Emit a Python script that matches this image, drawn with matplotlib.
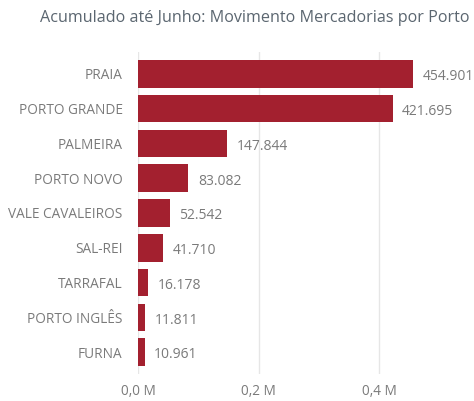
import matplotlib

matplotlib.use("Agg")
import matplotlib.pyplot as plt
from matplotlib.ticker import FuncFormatter, FixedLocator

plt.rcParams["font.family"] = ["Open Sans", "DejaVu Sans"]

ports = ["PRAIA", "PORTO GRANDE", "PALMEIRA", "PORTO NOVO", "VALE CAVALEIROS",
         "SAL-REI", "TARRAFAL", "PORTO INGLÊS", "FURNA"]
volumes = [454901, 421695, 147844, 83082, 52542, 41710, 16178, 11811, 10961]
x_ticks = [0, 200000, 400000]

BAR_COLOR = "#A3202F"
TEXT_GRAY = "#7A7A7A"
GRID_GRAY = "#E6E6E6"

fig = plt.figure(figsize=(4.74, 4.01), dpi=100)
# axes placed in pixel terms: left 138, right 470, top 52, bottom 374
ax = fig.add_axes([138 / 474, 1 - 374 / 401, (470 - 138) / 474, (374 - 52) / 401])

y = list(range(len(ports)))
ax.barh(y, volumes, height=0.79, color=BAR_COLOR, zorder=3)

ax.set_xlim(0, 550000)
ax.set_ylim(len(ports) - 1 + 0.63, -0.63)

ax.xaxis.set_major_locator(FixedLocator(x_ticks))
ax.xaxis.set_major_formatter(FuncFormatter(lambda v, _: f"{v / 1e6:.1f} M".replace(".", ",")))
ax.grid(axis="x", color=GRID_GRAY, linewidth=1, zorder=0)
ax.set_yticks(y)
ax.set_yticklabels(ports)

for s in ax.spines.values():
    s.set_visible(False)
ax.tick_params(axis="both", length=0, colors=TEXT_GRAY, labelsize=9.8)
ax.tick_params(axis="y", pad=11)
ax.tick_params(axis="x", pad=7)

for yi, v in zip(y, volumes):
    ax.text(v + 16000, yi + 0.08, f"{v:,}".replace(",", "."), va="center", ha="left",
            color=TEXT_GRAY, fontsize=10)

fig.text(470 / 474, 1 - 18 / 401, "Acumulado até Junho: Movimento Mercadorias por Porto",
         ha="right", va="center", color="#5B6670", fontsize=11.6)

fig.savefig("out.png", dpi=100)
